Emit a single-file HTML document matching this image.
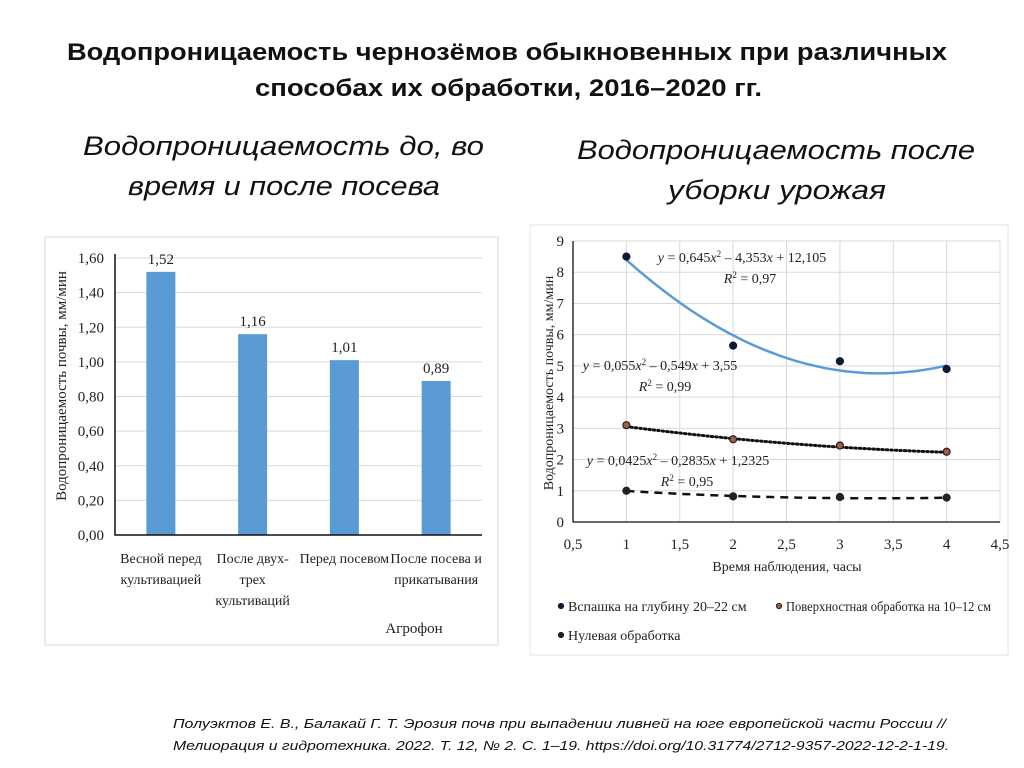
<!DOCTYPE html>
<html><head><meta charset="utf-8"><style>
html,body{margin:0;padding:0;background:#fff;}
svg{display:block;}
</style></head><body>
<svg id="root" width="1024" height="768" viewBox="0 0 1024 768" xmlns="http://www.w3.org/2000/svg">
<g font-family="'Liberation Sans Narrow','Liberation Sans',sans-serif" fill="#111">
<text x="67" y="60" font-size="24" font-weight="bold" textLength="880" lengthAdjust="spacingAndGlyphs">Водопроницаемость чернозёмов обыкновенных при различных</text>
<text x="255" y="96" font-size="24" font-weight="bold" textLength="507" lengthAdjust="spacingAndGlyphs">способах их обработки, 2016–2020 гг.</text>
<text x="83" y="155" font-size="27" font-style="italic" textLength="401" lengthAdjust="spacingAndGlyphs">Водопроницаемость до, во</text>
<text x="128" y="195" font-size="27" font-style="italic" textLength="312" lengthAdjust="spacingAndGlyphs">время и после посева</text>
<text x="577" y="159" font-size="27" font-style="italic" textLength="398" lengthAdjust="spacingAndGlyphs">Водопроницаемость после</text>
<text x="668" y="199" font-size="27" font-style="italic" textLength="218" lengthAdjust="spacingAndGlyphs">уборки урожая</text>
</g>
<g id="barchart"></g>
<g id="scatter"></g>
<g font-family="'Liberation Sans',sans-serif" font-style="italic" font-size="13" fill="#111">
<text x="173" y="728" textLength="773" lengthAdjust="spacingAndGlyphs">Полуэктов Е. В., Балакай Г. Т. Эрозия почв при выпадении ливней на юге европейской части России //</text>
<text x="173" y="750" textLength="776" lengthAdjust="spacingAndGlyphs">Мелиорация и гидротехника. 2022. Т. 12, № 2. С. 1–19. https://doi.org/10.31774/2712-9357-2022-12-2-1-19.</text>
</g>
</svg>
<script>
const NS='http://www.w3.org/2000/svg';
// ---- bar chart data ----
const barCategories=[["Весной перед","культивацией"],["После двух-","трех","культиваций"],["Перед посевом"],["После посева и","прикатывания"]];
const barValues=[1.52,1.16,1.01,0.89];
const barLabels=["1,52","1,16","1,01","0,89"];
const barTicks=[0,0.2,0.4,0.6,0.8,1.0,1.2,1.4,1.6];
const barTickLabels=["0,00","0,20","0,40","0,60","0,80","1,00","1,20","1,40","1,60"];
// ---- scatter data ----
const xValues=[1,2,3,4];
const plowValues=[8.5,5.65,5.15,4.9];
const surfaceValues=[3.1,2.65,2.45,2.25];
const zeroValues=[1.0,0.82,0.8,0.78];
const plowCoef=[0.645,-4.353,12.105];
const surfaceCoef=[0.055,-0.549,3.55];
const zeroCoef=[0.0425,-0.2835,1.2325];
const xTicks=[0.5,1,1.5,2,2.5,3,3.5,4,4.5];
const xTickLabels=["0,5","1","1,5","2","2,5","3","3,5","4","4,5"];
const yTicks=[0,1,2,3,4,5,6,7,8,9];
const yTickLabels=["0","1","2","3","4","5","6","7","8","9"];

function mk(parent,tag,attrs,text){const e=document.createElementNS(NS,tag);for(const k in attrs)e.setAttribute(k,attrs[k]);if(text!==undefined)e.textContent=text;parent.appendChild(e);return e;}
const serif="'Liberation Serif',serif";

// ---- bar chart ----
const bc=document.getElementById('barchart');
const bx0=115,bx1=482,by0=535,by1=258;
const byScale=v=>by0-(v/1.6)*(by0-by1);
const band=(bx1-bx0)/barValues.length;
const bxCenter=i=>bx0+band*(i+0.5);
let f=mk(bc,'rect',{x:45,y:237,width:453,height:408,fill:'#fff',stroke:'#d9d9d9'});


barTicks.forEach((t,i)=>{
  const y=byScale(t);
  if(t>0){const g=mk(bc,'line',{x1:bx0,x2:bx1,y1:y,y2:y,stroke:'#d9d9d9'});
  
  }
  const l=mk(bc,'text',{x:104,y:y+5,'text-anchor':'end','font-family':serif,'font-size':15,fill:'#222'},barTickLabels[i]);
  
  
});
barValues.forEach((v,i)=>{
  const cx=bxCenter(i);
  const r=mk(bc,'rect',{x:cx-14.5,y:byScale(v),width:29,height:by0-byScale(v),fill:'#5b9bd5'});
  
  
  const t=mk(bc,'text',{x:cx,y:byScale(v)-8,'text-anchor':'middle','font-family':serif,'font-size':15,fill:'#222'},barLabels[i]);
  
  
  barCategories[i].forEach((line,j)=>{
    const c=mk(bc,'text',{x:cx,y:563+j*21,'text-anchor':'middle','font-family':serif,'font-size':14,fill:'#222'},line);
    
    
  });
});
let ax=mk(bc,'path',{d:`M${bx0} ${by1-4} V${by0} H${bx1}`,fill:'none',stroke:'#111','stroke-width':1.5});


let at=mk(bc,'text',{x:414,y:633,'text-anchor':'middle','font-family':serif,'font-size':15,fill:'#222'},'Агрофон');


let yt=mk(bc,'text',{transform:'translate(66,386) rotate(-90)','text-anchor':'middle','font-family':serif,'font-size':15,fill:'#222'},'Водопроницаемость почвы, мм/мин');



// ---- scatter chart ----
const sc=document.getElementById('scatter');
const sx0=573,sx1=1000,sy0=522,sy1=241;
const sx=v=>sx0+(v-0.5)/4*(sx1-sx0);
const sy=v=>sy0-v/9*(sy0-sy1);
f=mk(sc,'rect',{x:530,y:225,width:478,height:430,fill:'#fff',stroke:'#e3e3e3'});


yTicks.forEach((t,i)=>{
  const y=sy(t);
  if(t>0){const g=mk(sc,'line',{x1:sx0,x2:sx1,y1:y,y2:y,stroke:'#d9d9d9'});
  
  }
  const l=mk(sc,'text',{x:564,y:y+5,'text-anchor':'end','font-family':serif,'font-size':15,fill:'#222'},yTickLabels[i]);
  
  
});
xTicks.forEach((t,i)=>{
  const x=sx(t);
  if(t>0.5){const g=mk(sc,'line',{x1:x,x2:x,y1:sy1,y2:sy0,stroke:'#d9d9d9'});
  
  }
  const l=mk(sc,'text',{x:x,y:549,'text-anchor':'middle','font-family':serif,'font-size':15,fill:'#222'},xTickLabels[i]);
  
  
});
ax=mk(sc,'path',{d:`M${sx0} ${sy1} V${sy0} H${sx1}`,fill:'none',stroke:'#111','stroke-width':1.3});


function trend(coef,attrs,name){
  let d='';
  for(let k=0;k<=60;k++){const x=1+3*k/60;const y=coef[0]*x*x+coef[1]*x+coef[2];d+=(k?'L':'M')+sx(x).toFixed(1)+' '+sy(y).toFixed(1);}
  const p=mk(sc,'path',Object.assign({d:d,fill:'none'},attrs));
  
  
}
trend(plowCoef,{stroke:'#5b9bd5','stroke-width':2.5},'plow-trendline');
trend(surfaceCoef,{stroke:'#111','stroke-width':3,'stroke-dasharray':'1.5 3','stroke-linecap':'round'},'surface-trendline');
trend(zeroCoef,{stroke:'#111','stroke-width':2.5,'stroke-dasharray':'8 6'},'zero-trendline');
function points(vals,fill,stroke,name){
  vals.forEach((v,i)=>{
    const c=mk(sc,'circle',{cx:sx(xValues[i]),cy:sy(v),r:3.5,fill:fill,stroke:stroke,'stroke-width':1.2});
    
    
  });
}
points(plowValues,'#0d1b33','#0d1b33','plow-point');
points(surfaceValues,'#a0603f','#222','surface-point');
points(zeroValues,'#222','#222','zero-point');
function eq(x,y,parts,name){
  const t=mk(sc,'text',{x:x,y:y,'text-anchor':'middle','font-family':serif,'font-size':14,fill:'#222'});
  
  
  parts.forEach(p=>{mk(t,'tspan',p[1]||{},p[0]);});
}
const it={'font-style':'italic'},sup={'baseline-shift':'super','font-size':9};
eq(742,262,[['y',it],[' = 0,645'],['x',it],['2',sup],[' – 4,353'],['x',it],[' + 12,105']],'plow-equation');
eq(750,283,[['R',it],['2',sup],[' = 0,97']],'plow-r2');
eq(660,370,[['y',it],[' = 0,055'],['x',it],['2',sup],[' – 0,549'],['x',it],[' + 3,55']],'surface-equation');
eq(665,391,[['R',it],['2',sup],[' = 0,99']],'surface-r2');
eq(678,465,[['y',it],[' = 0,0425'],['x',it],['2',sup],[' – 0,2835'],['x',it],[' + 1,2325']],'zero-equation');
eq(687,486,[['R',it],['2',sup],[' = 0,95']],'zero-r2');
let xt=mk(sc,'text',{x:787,y:571,'text-anchor':'middle','font-family':serif,'font-size':14,fill:'#222'},'Время наблюдения, часы');


yt=mk(sc,'text',{transform:'translate(553,383) rotate(-90)','text-anchor':'middle','font-family':serif,'font-size':14,fill:'#222'},'Водопроницаемость почвы, мм/мин');


const legend=[[561,611,'#0d1b33','#0d1b33','Вспашка на глубину 20–22 см',0],[779,611,'#a0603f','#222','Поверхностная обработка на 10–12 см',205],[561,640,'#222','#222','Нулевая обработка',0]];
legend.forEach(l=>{
  const c=mk(sc,'circle',{cx:l[0],cy:l[1]-5,r:2.6,fill:l[2],stroke:l[3]});
  
  
  const attrs={x:l[0]+7,y:l[1],'font-family':serif,'font-size':14,fill:'#222'};
  if(l[5]){attrs.textLength=l[5];attrs.lengthAdjust='spacingAndGlyphs';}
  const t=mk(sc,'text',attrs,l[4]);
  
  
});
</script>
</body></html>
